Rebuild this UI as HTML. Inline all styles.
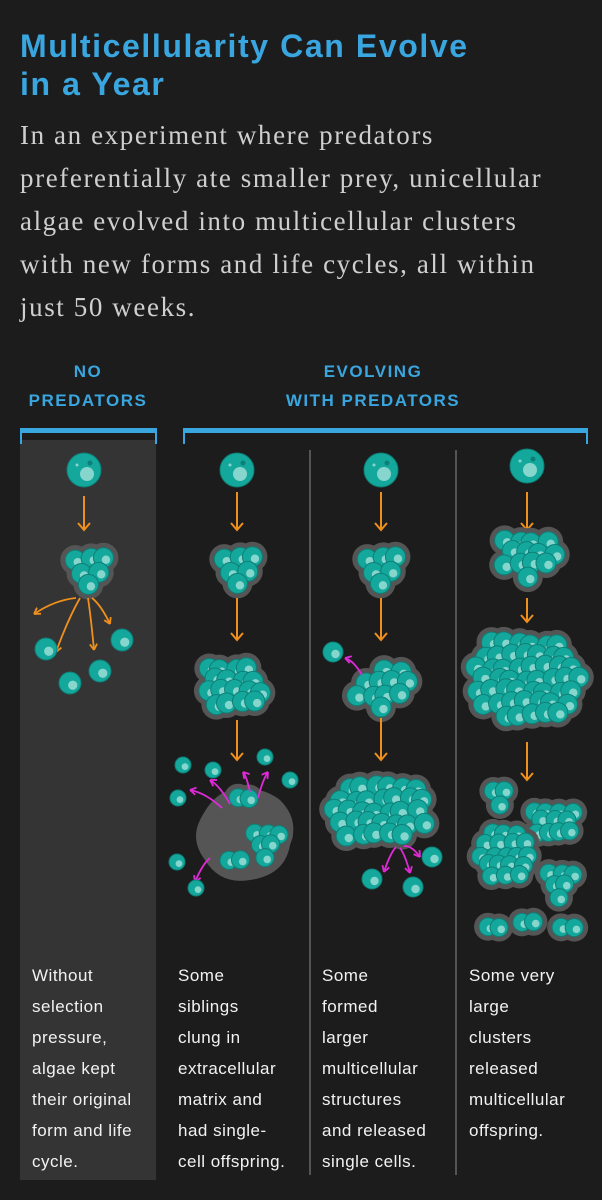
<!DOCTYPE html>
<html><head><meta charset="utf-8"><style>
body{margin:0;background:#1c1c1c;width:602px;height:1200px;overflow:hidden;position:relative;font-family:"Liberation Sans",sans-serif}
.t{position:absolute;margin:0}
h1{position:absolute;left:20px;top:27px;margin:0;color:#3aa6df;font:bold 32px/38px "Liberation Sans",sans-serif;letter-spacing:1.6px}
.sub{left:20px;top:114px;white-space:nowrap;color:#cfcfcf;font:27px/43px "Liberation Serif",serif;letter-spacing:1.6px}
.hd{color:#3aa6df;font:bold 17px/29px "Liberation Sans",sans-serif;letter-spacing:1.5px;text-align:center;top:357px}
.bt{color:#f2f2f2;font:17px/31px "Liberation Sans",sans-serif;letter-spacing:0.5px;top:960px}
</style></head><body>
<h1>Multicellularity Can Evolve<br>in a Year</h1>
<p class="t sub">In an experiment where predators<br>preferentially ate smaller prey, unicellular<br>algae evolved into multicellular clusters<br>with new forms and life cycles, all within<br>just 50 weeks.</p>
<svg id="g" width="602" height="1200" style="position:absolute;left:0;top:0">
<rect x="20" y="440" width="136" height="740" fill="#343434"/>
<g fill="#3aa6df">
<rect x="20" y="428" width="137" height="5"/><rect x="20" y="428" width="2" height="16"/><rect x="155" y="428" width="2" height="16"/>
<rect x="183" y="428" width="405" height="5"/><rect x="183" y="428" width="2" height="16"/><rect x="586" y="428" width="2" height="16"/>
</g>
<g stroke="#666" stroke-width="1.5">
<line x1="310" y1="450" x2="310" y2="1175"/><line x1="456" y1="450" x2="456" y2="1175"/>
</g>
<g id="L"></g>
</svg>
<p class="t hd" style="left:20px;width:136px">NO<br>PREDATORS</p>
<p class="t hd" style="left:183px;width:380px">EVOLVING<br>WITH PREDATORS</p>
<p class="t bt" style="left:32px;width:120px">Without<br>selection<br>pressure,<br>algae kept<br>their original<br>form and life<br>cycle.</p>
<p class="t bt" style="left:178px;width:130px">Some<br>siblings<br>clung in<br>extracellular<br>matrix and<br>had single-<br>cell offspring.</p>
<p class="t bt" style="left:322px;width:130px">Some<br>formed<br>larger<br>multicellular<br>structures<br>and released<br>single cells.</p>
<p class="t bt" style="left:469px;width:130px">Some very<br>large<br>clusters<br>released<br>multicellular<br>offspring.</p>
<script>
const NS="http://www.w3.org/2000/svg",L=document.getElementById('L');
function el(t,a){const e=document.createElementNS(NS,t);for(const k in a)e.setAttribute(k,a[k]);L.appendChild(e);return e;}
function cell(x,y,r){const c=el('circle',{cx:x,cy:y,r:r,fill:'#14a89c',stroke:'#0d7f77','stroke-width':1});

el('circle',{cx:x+r*0.25,cy:y+r*0.2,r:r*0.42,fill:'#86d6cd'});}
function pts(cx,cy,rx,ry,r){const o=[];const s=r*1.35;let i=0;
for(let y=-ry;y<=ry;y+=s*0.87){for(let x=-rx+((i%2)*s/2);x<=rx;x+=s){if((x*x)/(rx*rx)+(y*y)/(ry*ry)<=1)o.push([cx+x+Math.sin(x*3+y)*2,cy+y+Math.cos(y*2+x)*2]);}i++;}return o;}
function cluster(cx,cy,rx,ry,r,skip){let p=pts(cx,cy,rx,ry,r);if(skip)p=p.filter(skip);
p.forEach(q=>el('circle',{cx:q[0],cy:q[1],r:r+5,fill:'#555'}));p.forEach(q=>cell(q[0],q[1],r));}
function arrow(x,y1,y2,c){el('line',{x1:x,y1:y1,x2:x,y2:y2,stroke:c||'#f0901c','stroke-width':2});
el('polyline',{points:`${x-6},${y2-7} ${x},${y2} ${x+6},${y2-7}`,fill:'none',stroke:c||'#f0901c','stroke-width':2});}
function curve(x1,y1,x2,y2,c){const mx=(x1+x2)/2,my=(y1+y2)/2-6;el('path',{d:`M${x1},${y1} Q${mx},${my} ${x2},${y2}`,fill:'none',stroke:c,'stroke-width':1.8});
const a=Math.atan2(y2-my,x2-mx);for(const d of[2.6,-2.6])el('line',{x1:x2,y1:y2,x2:x2+7*Math.cos(a+d),y2:y2+7*Math.sin(a+d),stroke:c,'stroke-width':1.8});}
function big(x,y){el('circle',{cx:x,cy:y,r:17,fill:'#14a89c',stroke:'#0d7f77'});el('circle',{cx:x+3,cy:y+4,r:7,fill:'#86d6cd'});el('circle',{cx:x+6,cy:y-7,r:2.5,fill:'#0d7f77'});el('circle',{cx:x-7,cy:y-5,r:1.5,fill:'#86d6cd'});}
// col1
big(84,470);arrow(84,496,530);cluster(88,566,18,18,10);
[[-8,-50,-26],[-4,-28,12],[4,10,10],[8,26,-16]].forEach(a=>curve(84+a[0],598,84+a[1],640+a[2],'#f0901c'));
cell(46,649,11);cell(70,683,11);cell(100,671,11);cell(122,640,11);
// col2
big(237,470);arrow(237,492,530);cluster(237,565,18,18,10);arrow(237,598,640);cluster(233,684,32,28,10);arrow(237,720,760);
el('path',{d:'M200,820 Q215,790 235,790 Q260,785 280,800 Q300,820 290,845 Q285,875 250,880 Q220,885 205,860 Q190,840 200,820Z',fill:'#555'});
cluster(242,797,12,10,9);cluster(266,840,18,16,9);cluster(235,858,14,10,9);
curve(222,808,190,790,'#e02ad8');curve(230,804,210,780,'#e02ad8');curve(250,792,243,772,'#e02ad8');curve(258,798,268,772,'#e02ad8');curve(210,858,195,882,'#e02ad8');
cell(183,765,8);cell(213,770,8);cell(265,757,8);cell(290,780,8);cell(178,798,8);cell(177,862,8);cell(196,888,8);
// col3
big(381,470);arrow(381,492,530);cluster(380,565,18,18,10);arrow(381,598,640);
cluster(382,683,30,24,10,q=>!(q[0]<376&&q[1]<680));cell(333,652,10);curve(362,675,345,658,'#e02ad8');arrow(381,718,760);
cluster(378,810,50,34,10);curve(396,847,384,872,'#e02ad8');curve(400,848,410,873,'#e02ad8');curve(404,846,420,857,'#e02ad8');
cell(372,879,10);cell(413,887,10);cell(432,857,10);
// col4
big(527,466);arrow(527,492,530);cluster(527,553,28,24,10);arrow(527,598,622);cluster(527,678,56,46,10);arrow(527,742,780);
cluster(500,794,12,12,9);cluster(553,820,24,20,9);cluster(505,855,30,32,9);cluster(560,880,18,16,9);
cluster(492,926,12,10,9);cluster(528,920,14,10,9);cluster(570,925,13,10,9);
</script>
</body></html>
